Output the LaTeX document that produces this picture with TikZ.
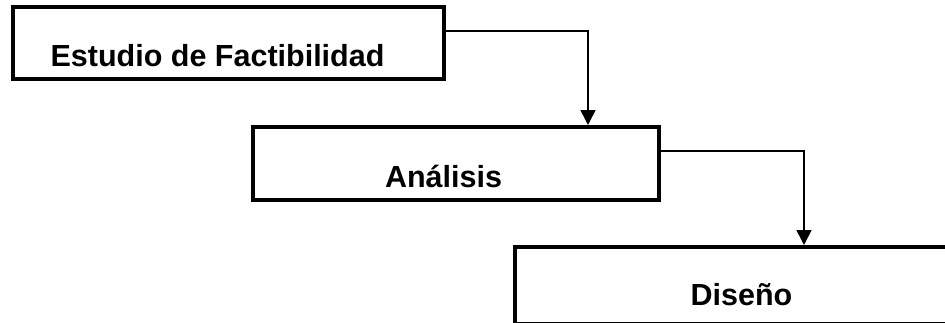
\documentclass[tikz,border=0pt]{standalone}
\usepackage{fontspec}
\setmainfont{Liberation Sans}
\usetikzlibrary{arrows.meta}
\begin{document}
\begin{tikzpicture}[x=1pt,y=1pt,
  phasebox/.style={draw=black,line width=4pt,rectangle,inner sep=0pt,fill=white},
  phaselabel/.style={anchor=base,inner sep=0pt,font=\fontsize{30.5}{36}\selectfont\bfseries},
  flow/.style={line width=1.6pt,-{Triangle[width=15pt,length=15pt]}}]
\useasboundingbox (0,0) rectangle (945,-322);
\fill[white] (0,0) rectangle (945,-322);
% phase boxes; the last one runs past the right and bottom edges
\begin{scope}
\clip (0,0) rectangle (945,-322);
\node[phasebox,minimum width=431pt,minimum height=72pt] (b1) at (228.5,-43) {};
\node[phasebox,minimum width=406pt,minimum height=73pt] (b2) at (456,-163.5) {};
\node[phasebox,minimum width=485pt,minimum height=76.5pt] (b3) at (757.5,-285.25) {};
\end{scope}
% labels
\node[phaselabel] (t1) at (217.5,-66) {Estudio de Factibilidad};
\node[phaselabel] (t2) at (443.5,-187) {Análisis};
\node[phaselabel] (t3) at (741.5,-305) {Diseño};
% step-down connectors
\coordinate (k1) at (588,-31);
\coordinate (k2) at (804,-151);
\draw[flow] (b1.east |- k1) -- (k1) -- (b2.north -| k1);
\draw[flow] (b2.east |- k2) -- (k2) -- (b3.north -| k2);
\end{tikzpicture}
\end{document}
